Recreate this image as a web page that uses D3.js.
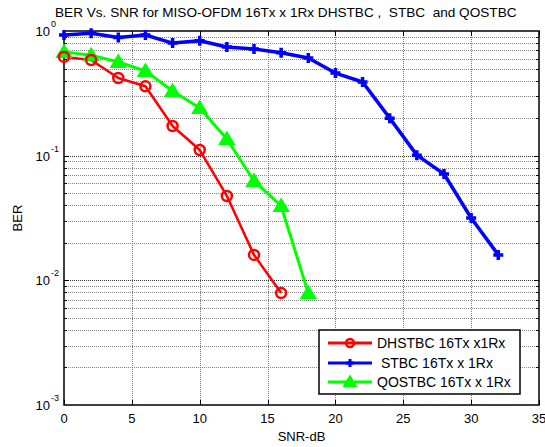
<!DOCTYPE html>
<html>
<head>
<meta charset="utf-8">
<script src="https://cdn.jsdelivr.net/npm/d3@7"></script>
<style>
  body { margin: 0; background: #fff; }
  svg { display: block; font-family: "Liberation Sans", Arial, sans-serif; }
</style>
</head>
<body>
<div id="chart"></div>
<script>
// data
var snrRed = [0, 2, 4, 6, 8, 10, 12, 14, 16];
var berDhstbc = [0.62, 0.585, 0.42, 0.36, 0.173, 0.111, 0.0475, 0.016, 0.0079];

var snrBlue = [0, 2, 4, 6, 8, 10, 12, 14, 16, 18, 20, 22, 24, 26, 28, 30, 32];
var berStbc = [0.929, 0.958, 0.887, 0.929, 0.80, 0.836, 0.744, 0.717, 0.67, 0.607,
  0.46, 0.39, 0.2, 0.101, 0.0713, 0.0316, 0.016];

var snrGreen = [0, 2, 4, 6, 8, 10, 12, 14, 16, 18];
var berQostbc = [0.68, 0.64, 0.564, 0.478, 0.33, 0.241, 0.136, 0.0627, 0.0395, 0.0079];

var xTicks = [0, 5, 10, 15, 20, 25, 30, 35];
var yExponents = [0, -1, -2, -3];
var legendLabels = ["DHSTBC 16Tx x1Rx", " STBC 16Tx x 1Rx", "QOSTBC 16Tx x 1Rx"];

var W = 545, H = 447;
var margin = { top: 31, right: 6, bottom: 42, left: 64 },
  width = W - margin.left - margin.right,
  height = H - margin.top - margin.bottom;

var svg = d3.select("#chart").append("svg")
  .attr("width", W).attr("height", H);

var x = d3.scaleLinear().domain([0, 35]).range([0, width]);
var y = d3.scaleLog().domain([1e-3, 1]).range([height, 0]);

var g = svg.append("g")
  .attr("transform", "translate(" + margin.left + "," + margin.top + ")");

// grid - minor log lines and major
var minorVals = [];
yExponents.forEach(function (e) {
  if (e === 0) return;
  for (var k = 2; k <= 9; k++) minorVals.push(k * Math.pow(10, e));
});

g.selectAll(".hgrid").data(minorVals).enter().append("line")
  .attr("x1", 0).attr("x2", width)
  .attr("y1", function (d) { return Math.round(y(d)) + 0.5; })
  .attr("y2", function (d) { return Math.round(y(d)) + 0.5; })
  .attr("stroke", "#888").attr("stroke-dasharray", "1,1");

g.selectAll(".hmajor").data([0.1, 0.01]).enter().append("line")
  .attr("x1", 0).attr("x2", width)
  .attr("y1", function (d) { return Math.round(y(d)) + 0.5; })
  .attr("y2", function (d) { return Math.round(y(d)) + 0.5; })
  .attr("stroke", "#333").attr("stroke-dasharray", "1,1");

g.selectAll(".vgrid").data(xTicks.slice(1, -1)).enter().append("line")
  .attr("y1", 0).attr("y2", height)
  .attr("x1", function (d) { return Math.round(x(d)) + 0.5; })
  .attr("x2", function (d) { return Math.round(x(d)) + 0.5; })
  .attr("stroke", "#777").attr("stroke-dasharray", "1,1");

// ticks inside on all four sides
xTicks.forEach(function (t) {
  var px = Math.round(x(t)) + 0.5;
  g.append("line").attr("x1", px).attr("x2", px).attr("y1", height).attr("y2", height - 5).attr("stroke", "#000");
  g.append("line").attr("x1", px).attr("x2", px).attr("y1", 0).attr("y2", 5).attr("stroke", "#000");
});
minorVals.concat([0.1, 0.01]).forEach(function (v) {
  var py = Math.round(y(v)) + 0.5;
  var len = (v === 0.1 || v === 0.01) ? 5 : 3;
  g.append("line").attr("x1", 0).attr("x2", len).attr("y1", py).attr("y2", py).attr("stroke", "#000");
  g.append("line").attr("x1", width).attr("x2", width - len).attr("y1", py).attr("y2", py).attr("stroke", "#000");
});

// box
g.append("rect").attr("x", 0).attr("y", 0).attr("width", width).attr("height", height)
  .attr("fill", "none").attr("stroke", "#000").attr("stroke-width", 1.5);

// x tick labels
g.selectAll(".xlab").data(xTicks).enter().append("text")
  .attr("x", function (d) { return x(d); })
  .attr("y", height + 18)
  .attr("text-anchor", "middle")
  .style("font-size", "13px")
  .text(function (d) { return d; });

// y tick labels 10^e
yExponents.forEach(function (e) {
  var py = y(Math.pow(10, e));
  g.append("text").attr("x", -14).attr("y", py + 5)
    .attr("text-anchor", "end").style("font-size", "13px").text("10");
  g.append("text").attr("x", -13).attr("y", py - 4)
    .attr("text-anchor", "start").style("font-size", "9px").text(e === 0 ? "0" : "-" + (-e));
});

// series
var line = d3.line()
  .x(function (d) { return x(d[0]); })
  .y(function (d) { return y(d[1]); });

var red = d3.zip(snrRed, berDhstbc);
var blue = d3.zip(snrBlue, berStbc);
var green = d3.zip(snrGreen, berQostbc);

g.append("path").datum(blue).attr("d", line)
  .attr("fill", "none").attr("stroke", "#0000ff").attr("stroke-width", 3.5).attr("stroke-linejoin", "round");
g.append("path").datum(green).attr("d", line)
  .attr("fill", "none").attr("stroke", "#00ff00").attr("stroke-width", 3).attr("stroke-linejoin", "round");
g.append("path").datum(red).attr("d", line)
  .attr("fill", "none").attr("stroke", "#ff0000").attr("stroke-width", 2.5).attr("stroke-linejoin", "round");

function plus(sel, s, w) {
  sel.append("path").attr("d", "M" + (-s) + ",0H" + s + "M0," + (-s) + "V" + s)
    .attr("stroke", "#0000ff").attr("stroke-width", w).attr("fill", "none");
}
function tri(sel, s) {
  sel.append("path").attr("d", "M0," + (-s) + "L" + (s * 1.05) + "," + (s * 0.75) + "L" + (-s * 1.05) + "," + (s * 0.75) + "Z")
    .attr("fill", "#00ff00").attr("stroke", "#00ff00").attr("stroke-width", 1.5);
}
function circ(sel, r) {
  sel.append("circle").attr("r", r).attr("fill", "none").attr("stroke", "#ff0000").attr("stroke-width", 2.5);
}

g.selectAll(".bm").data(blue).enter().append("g")
  .attr("transform", function (d) { return "translate(" + x(d[0]) + "," + y(d[1]) + ")"; })
  .each(function () { plus(d3.select(this), 5, 3.5); });
g.selectAll(".gm").data(green).enter().append("g")
  .attr("transform", function (d) { return "translate(" + x(d[0]) + "," + y(d[1]) + ")"; })
  .each(function () { tri(d3.select(this), 7); });
g.selectAll(".rm").data(red).enter().append("g")
  .attr("transform", function (d) { return "translate(" + x(d[0]) + "," + y(d[1]) + ")"; })
  .each(function () { circ(d3.select(this), 5); });

// title and axis labels
svg.append("text").attr("x", 55).attr("y", 17)
  .style("font-size", "13.6px").text("BER Vs. SNR for MISO-OFDM 16Tx x 1Rx DHSTBC ,  STBC  and QOSTBC")
  .attr("xml:space", "preserve");
svg.append("text").attr("x", margin.left + x(17.5)).attr("y", 441)
  .attr("text-anchor", "middle").style("font-size", "13px").text("SNR-dB");
svg.append("text").attr("transform", "translate(22," + (margin.top + y(0.0316)) + ") rotate(-90)")
  .attr("text-anchor", "middle").style("font-size", "13px").text("BER");

// legend
var lg = svg.append("g").attr("transform", "translate(319,330)");
lg.append("rect").attr("width", 201).attr("height", 64)
  .attr("fill", "#fff").attr("stroke", "#000").attr("stroke-width", 1.5);
var rowY = [13, 33, 52];
var colors = ["#ff0000", "#0000ff", "#00ff00"];
legendLabels.forEach(function (lab, i) {
  lg.append("line").attr("x1", 9).attr("x2", 53).attr("y1", rowY[i]).attr("y2", rowY[i])
    .attr("stroke", colors[i]).attr("stroke-width", 3);
  var m = lg.append("g").attr("transform", "translate(31," + rowY[i] + ")");
  if (i === 0) circ(m, 4);
  if (i === 1) plus(m, 4, 3);
  if (i === 2) tri(m, 6);
  lg.append("text").attr("x", 58).attr("y", rowY[i] + 5)
    .attr("xml:space", "preserve")
    .style("font-size", "14px").text(lab);
});
</script>
</body>
</html>
